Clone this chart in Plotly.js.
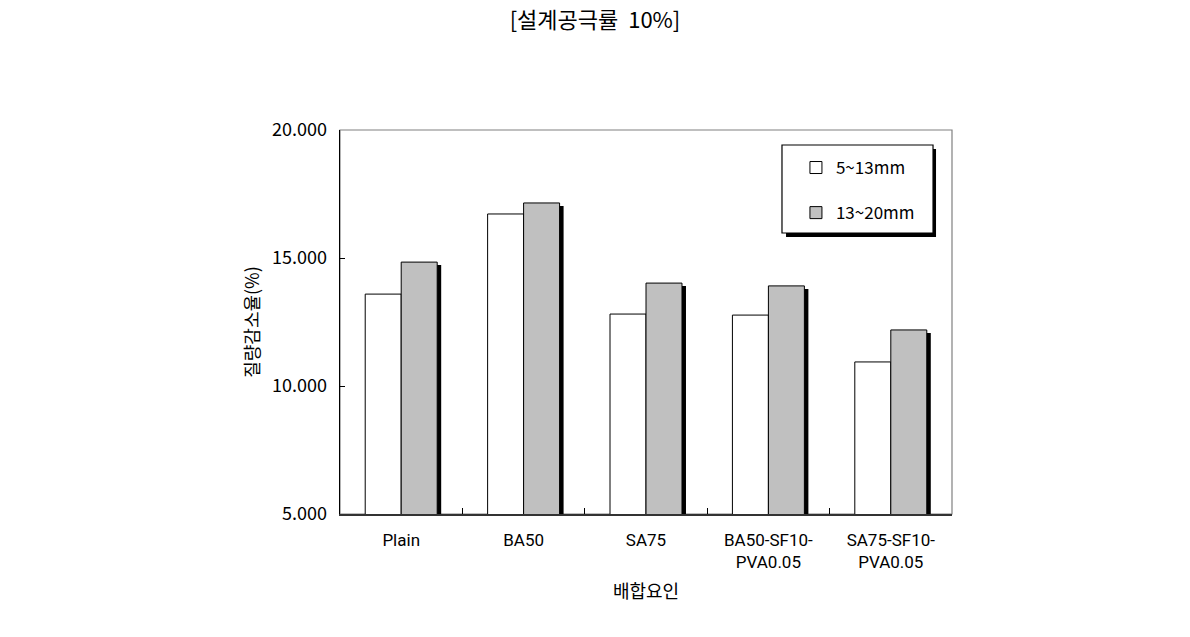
<!DOCTYPE html>
<html>
<head>
<meta charset="utf-8">
<script src="https://cdn.plot.ly/plotly-3.0.1.min.js"></script>
<style>html,body{margin:0;padding:0;background:#fff;}#chart{width:1190px;height:637px;}</style>
</head>
<body>
<div id="chart"></div>
<script>
const categories = ["Plain", "BA50", "SA75", "BA50-SF10-<br>PVA0.05", "SA75-SF10-<br>PVA0.05"];
const series1Name = "5~13mm";
const series2Name = "13~20mm";
const series1 = [13.59, 16.72, 12.81, 12.77, 10.94];
const series2 = [14.84, 17.15, 14.02, 13.91, 12.19];
const yTicks = [5, 10, 15, 20];
const titleText = "[설계공극률  10%]";
const xTitle = "배합요인";
const yTitle = "질량감소율(%)";

const FONT = "'Noto Sans CJK KR', 'Liberation Sans Narrow', sans-serif";
const LFONT = "Roboto, 'Noto Sans', sans-serif";
const idx = categories.map((c, i) => i);
const W = 0.294;
const plotW = 612, plotH = 384;
const dx = 4 / plotW * 5;      // shadow shift right (category units)
const dy = 3 / plotH * 15;     // shadow shift down (value units)

const traces = [
  { // shadow of gray bars (base subplot, drawn underneath)
    type: 'bar', x: idx, y: series2, xaxis: 'x', yaxis: 'y',
    width: W, offset: 0, marker: {color: '#000', line: {width: 0}},
    showlegend: false, hoverinfo: 'skip'
  },
  {
    type: 'bar', name: series1Name, x: idx, y: series1, xaxis: 'x2', yaxis: 'y2',
    width: W, offset: -W, legendgroup: 'a', marker: {color: '#ffffff', line: {color: '#000', width: 1}}
  },
  {
    type: 'bar', name: series2Name, x: idx, y: series2, xaxis: 'x2', yaxis: 'y2',
    width: W, offset: 0, legendgroup: 'b', marker: {color: '#c0c0c0', line: {color: '#000', width: 1}}
  }
];

const tf = {family: FONT, size: 17, color: '#000', weight: 400};
const af = {family: FONT, size: 18, color: '#000', weight: 400};
const xf = {family: LFONT, size: 17, color: '#000', weight: 400};

const layout = {
  width: 1190, height: 637,
  margin: {l: 340, r: 238, t: 130, b: 123},
  paper_bgcolor: '#fff', plot_bgcolor: 'rgba(0,0,0,0)',
  font: tf,
  title: {text: titleText, x: 0.5, xref: 'container', xanchor: 'center', y: 0.968, yanchor: 'middle',
          font: {family: FONT, size: 22, color: '#000', weight: 400}},
  showlegend: true,
  legend: {
    x: 0.745, y: 0.948, xanchor: 'left', yanchor: 'top',
    bgcolor: 'rgba(0,0,0,0)', borderwidth: 0,
    font: tf, itemwidth: 30, tracegroupgap: 20, traceorder: 'grouped'
  },
  xaxis: {
    range: [-0.5 - dx, 4.5 - dx], visible: false, fixedrange: true
  },
  yaxis: {
    range: [5 + dy, 20 + dy], visible: false, fixedrange: true
  },
  xaxis2: {
    overlaying: 'x', range: [-0.5, 4.5],
    tickvals: idx, ticktext: categories,
    ticks: '', showline: true, linecolor: '#333', linewidth: 1.5,
    showgrid: false, zeroline: false, ticklabelstandoff: 10,
    tickfont: xf,
    title: {text: xTitle, font: af, standoff: 14},
    minor: {tickvals: [0.5, 1.5, 2.5, 3.5], ticks: 'inside', ticklen: 6, tickcolor: '#000', tickwidth: 1}
  },
  yaxis2: {
    overlaying: 'y', range: [5, 20],
    tickvals: yTicks, tickformat: '.3f',
    ticks: 'inside', ticklen: 5, tickcolor: '#000',
    showline: true, linecolor: '#000', linewidth: 1.5,
    showgrid: false, zeroline: false, ticklabelstandoff: 8,
    tickfont: af,
    title: {text: yTitle, font: af, standoff: 7}
  },
  bargap: 0.41,
  shapes: [
    {type: 'rect', xref: 'paper', yref: 'paper', x0: 0, x1: 1, y0: 0, y1: 1,
     line: {color: '#808080', width: 1.2}, fillcolor: 'rgba(0,0,0,0)', layer: 'below'},
    {type: 'rect', xref: 'paper', yref: 'paper', x0: 0.7288, x1: 0.9739, y0: 0.7214, y1: 0.9505,
     line: {width: 0}, fillcolor: '#000', layer: 'above'},
    {type: 'rect', xref: 'paper', yref: 'paper', x0: 0.7222, x1: 0.9690, y0: 0.7318, y1: 0.9609,
     line: {width: 1.2, color: '#000'}, fillcolor: '#fff', layer: 'above'}
  ]
};

Plotly.newPlot('chart', traces, layout, {displayModeBar: false, staticPlot: true});
</script>
</body>
</html>
